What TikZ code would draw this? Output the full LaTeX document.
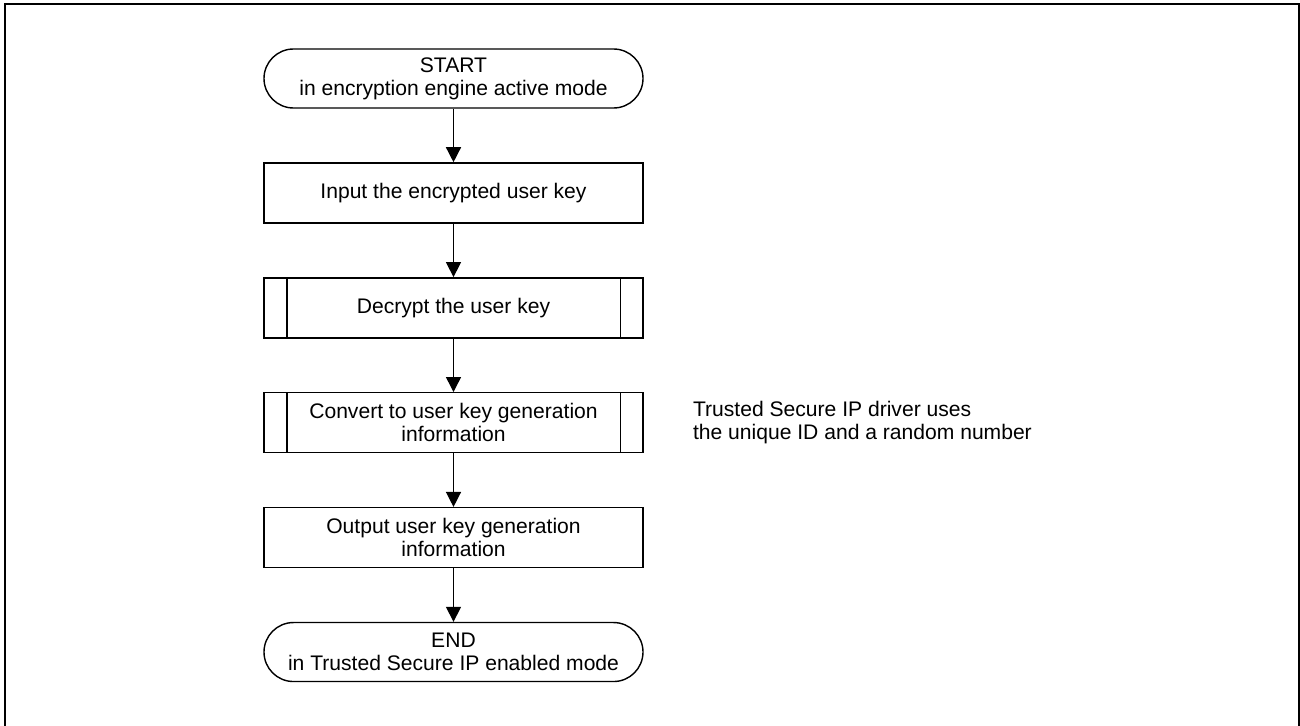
\documentclass[tikz,border=0pt]{standalone}
\usepackage{fontspec}
\setmainfont{Liberation Sans}
\usepackage{tikz}
\usetikzlibrary{arrows.meta,positioning,shapes,calc}

\tikzset{
    flowbox/.style={draw, line width=0.8pt, minimum width=7.58cm, minimum height=1.2cm,
        inner sep=0pt, align=center, font=\fontsize{12}{13}\selectfont},
    termbox/.style={flowbox, minimum height=1.18cm, rounded corners=0.59cm},
    subbox/.style={flowbox, path picture={
        \draw[line width=0.8pt] ([xshift=0.46cm]path picture bounding box.north west)
            -- ([xshift=0.46cm]path picture bounding box.south west);
        \draw[line width=0.8pt] ([xshift=-0.45cm]path picture bounding box.north east)
            -- ([xshift=-0.45cm]path picture bounding box.south east);}},
    flowarrow/.style={line width=0.8pt, -{Triangle[length=0.3cm, width=0.3cm]}}
}

\begin{document}
\begin{tikzpicture}[node distance=1.07cm]
        \useasboundingbox (0,0) rectangle (26,-14.52);
        % --- Frame ---
        \draw[line width=1.1pt] (0.1,-15) -- (0.1,-0.08) -- (25.98,-0.08) -- (25.98,-15);
        % --- Steps ---
        \node[termbox] (start) at (9.07,-1.57) {START\\in encryption engine active mode};
        \node[flowbox, below=of start] (input) {Input the encrypted user key};
        \node[subbox, below=of input] (decrypt) {Decrypt the user key};
        \node[subbox, below=of decrypt] (convert) {Convert to user key generation\\information};
        \node[flowbox, below=of convert] (output) {Output user key generation\\information};
        \node[termbox, below=of output] (end) {END\\in Trusted Secure IP enabled mode};
        % --- Note ---
        \node[right=0.98cm of convert, align=left, inner sep=0pt,
            font=\fontsize{12}{13}\selectfont] (note)
            {Trusted Secure IP driver uses\\the unique ID and a random number};
        % --- Arrows ---
        \foreach \a/\b in {start/input, input/decrypt, decrypt/convert,
            convert/output, output/end} {
            \draw[flowarrow] (\a) -- (\b);
        }
    \end{tikzpicture}
\end{document}
